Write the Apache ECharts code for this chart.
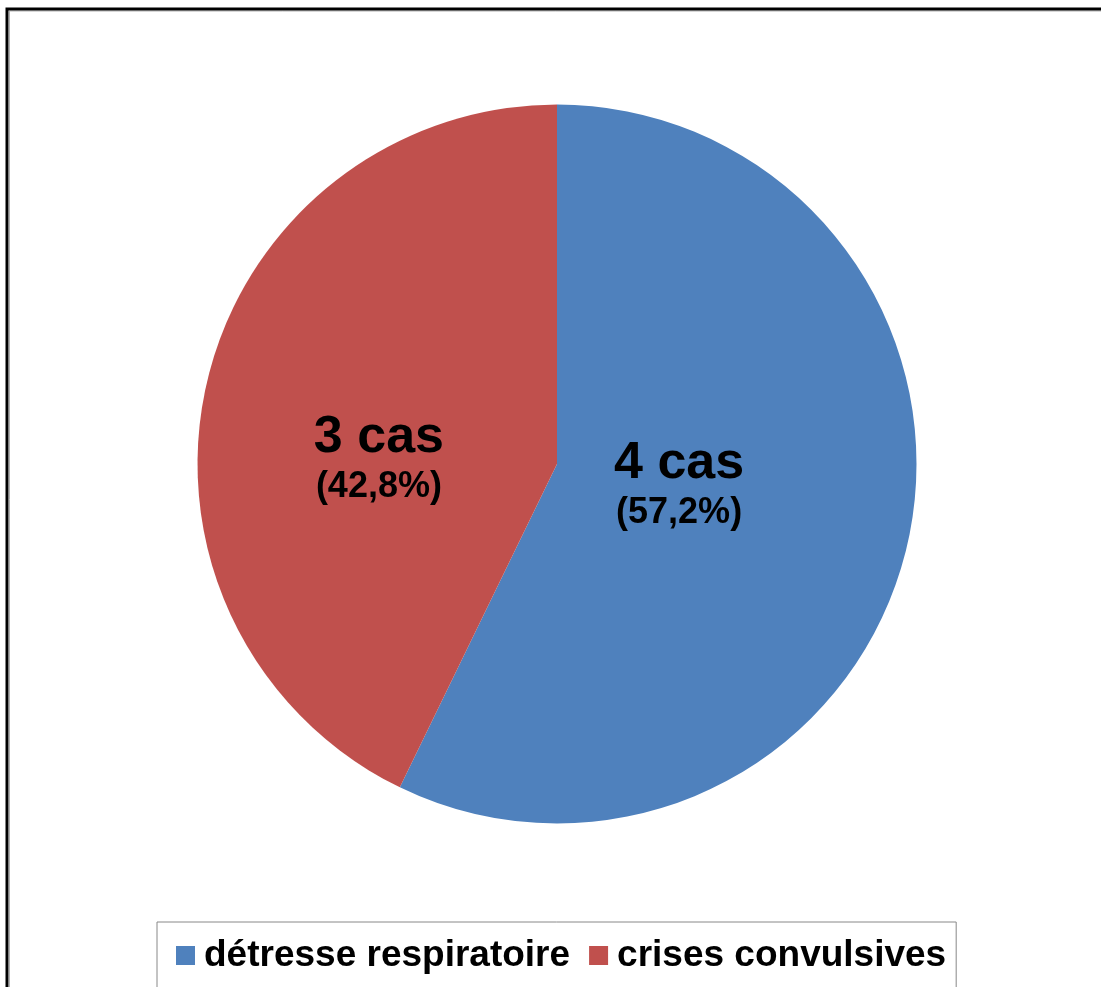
<!DOCTYPE html>
<html>
<head>
<meta charset="utf-8">
<script src="https://cdn.jsdelivr.net/npm/echarts@6/dist/echarts.min.js"></script>
<style>
  html, body { margin: 0; padding: 0; background: #ffffff; }
  #chart { width: 1101px; height: 987px; }
</style>
</head>
<body>
<div id="chart"></div>
<script>
// Categories, case counts and shares (percent) shown on the slices
const categories = ['détresse respiratoire', 'crises convulsives'];
const cases = [4, 3];
const percents = [57.2, 42.8];
const colors = ['#4F81BD', '#C0504D'];

const chart = echarts.init(document.getElementById('chart'), null, { renderer: 'canvas' });

const pieData = categories.map((name, i) => ({
  name: name,
  value: percents[i],
  itemStyle: { color: colors[i] }
}));

// nudge the in-slice labels toward the slice centre
const labelOffsets = [[-56, -21], [0, 35]];
pieData.forEach((d, i) => {
  d.label = { offset: labelOffsets[i] };
});

const option = {
  backgroundColor: '#ffffff',
  animation: false,
  graphic: [
    {
      type: 'rect',
      shape: { x: 7, y: 9, width: 1200, height: 1200 },
      style: { fill: 'none', stroke: '#000000', lineWidth: 3 },
      z: 10
    },
    {
      type: 'rect',
      shape: { x: 9.5, y: 11, width: 1200, height: 1200 },
      style: { fill: 'none', stroke: '#b0b0b0', lineWidth: 1 },
      z: 9
    }
  ],
  legend: {
    left: 157,
    top: 922,
    width: 800,
    orient: 'horizontal',
    padding: [15, 10, 40, 19],
    itemGap: 19,
    itemWidth: 19,
    itemHeight: 19,
    icon: 'rect',
    borderColor: '#888888',
    borderWidth: 1,
    selectedMode: false,
    textStyle: {
      fontFamily: '"Liberation Sans", Arial, sans-serif',
      fontWeight: 'bold',
      fontSize: 37,
      color: '#000000',
      padding: [0, 0, 0, 4]
    },
    data: categories
  },
  series: [
    {
      type: 'pie',
      center: [557, 464],
      radius: 359.5,
      startAngle: 90,
      clockwise: true,
      avoidLabelOverlap: false,
      itemStyle: { borderColor: '#ffffff', borderWidth: 0 },
      label: {
        show: true,
        position: 'inside',
        formatter: (p) => '{a|' + cases[p.dataIndex] + ' cas}\n{b|(' + String(percents[p.dataIndex]).replace('.', ',') + '%)}',
        rich: {
          a: {
            fontFamily: '"Liberation Sans", Arial, sans-serif',
            fontWeight: 'bold',
            fontSize: 52,
            color: '#000000',
            lineHeight: 58,
            align: 'center'
          },
          b: {
            fontFamily: '"Liberation Sans", Arial, sans-serif',
            fontWeight: 'bold',
            fontSize: 36,
            color: '#000000',
            lineHeight: 40,
            align: 'center'
          }
        }
      },
      labelLine: { show: false },
      emphasis: { disabled: true },
      data: pieData
    }
  ]
};

chart.setOption(option);
</script>
</body>
</html>
